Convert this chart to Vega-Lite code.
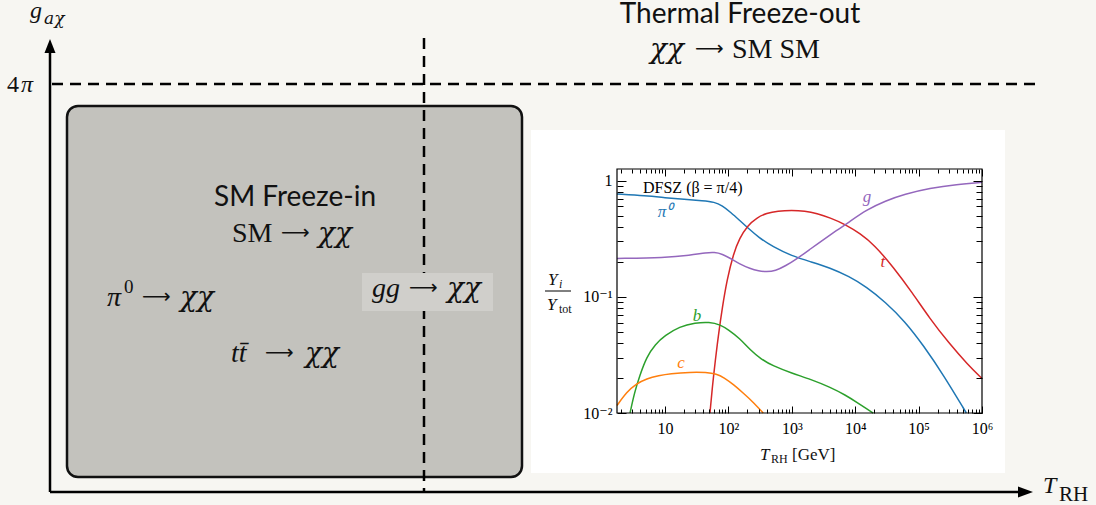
{
  "$schema": "https://vega.github.io/schema/vega-lite/v6.json",
  "width": 1096,
  "height": 505,
  "padding": 0,
  "autosize": {"type": "none"},
  "background": "#f7f6f2",
  "config": {"view": {"stroke": null}, "axis": {"grid": false}},
  "datasets": {
    "rects": [
      {"id": "white", "x": 531, "x2": 1005, "y": 32, "y2": 375},
      {"id": "gray", "x": 67, "x2": 522, "y": 28, "y2": 399},
      {"id": "gg", "x": 362, "x2": 493, "y": 194, "y2": 232}
    ],
    "lines": [
      {"id": "solid", "x": 50, "x2": 50, "y": 13, "y2": 452},
      {"id": "solid", "x": 50, "x2": 1019, "y": 13, "y2": 13},
      {"id": "dash", "x": 52, "x2": 1036, "y": 421, "y2": 421},
      {"id": "dash", "x": 424, "x2": 424, "y": 467, "y2": 13},
      {"id": "frac", "x": 545, "x2": 571, "y": 214, "y2": 214}
    ],
    "heads": [
      {"dir": "up", "x": 50, "y": 459},
      {"dir": "right", "x": 1025.5, "y": 13}
    ],
    "txt": [
      {"g": "sans", "x": 295, "y": 299, "text": "SM Freeze-in"},
      {"g": "sans", "x": 740, "y": 482, "text": "Thermal Freeze-out"},
      {"g": "up28", "x": 232, "y": 263, "text": "SM"},
      {"g": "up28", "x": 732, "y": 447, "text": "SM SM"},
      {"g": "arr", "x": 281, "y": 266, "text": "⟶"},
      {"g": "arr", "x": 142, "y": 202, "text": "⟶"},
      {"g": "arr", "x": 265, "y": 146, "text": "⟶"},
      {"g": "arr", "x": 409, "y": 211, "text": "⟶"},
      {"g": "arr", "x": 695, "y": 450, "text": "⟶"},
      {"g": "chi", "x": 318, "y": 263, "text": "χχ"},
      {"g": "chi", "x": 180, "y": 199, "text": "χχ"},
      {"g": "chi", "x": 305, "y": 143, "text": "χχ"},
      {"g": "chi", "x": 447, "y": 208, "text": "χχ"},
      {"g": "chi", "x": 650, "y": 447, "text": "χχ"},
      {"g": "it28", "x": 107, "y": 199, "text": "π"},
      {"g": "it28", "x": 231, "y": 143, "text": "tt̄"},
      {"g": "it28", "x": 372, "y": 208, "text": "gg"},
      {"g": "up19", "x": 124, "y": 212, "text": "0"},
      {"g": "up24", "x": 7, "y": 413, "text": "4"},
      {"g": "it24", "x": 21, "y": 413, "text": "π"},
      {"g": "it24", "x": 30, "y": 487, "text": "g"},
      {"g": "it24", "x": 1043, "y": 12, "text": "T"},
      {"g": "sub19", "x": 44, "y": 481, "text": "aχ"},
      {"g": "up20", "x": 1059, "y": 4, "text": "RH"},
      {"g": "it17", "x": 548, "y": 220, "text": "Y"},
      {"g": "it17", "x": 547, "y": 195, "text": "Y"},
      {"g": "it17", "x": 760, "y": 45, "text": "T"},
      {"g": "up17", "x": 792, "y": 45, "text": "[GeV]"},
      {"g": "it12", "x": 559, "y": 217, "text": "i"},
      {"g": "up12", "x": 559, "y": 192, "text": "tot"},
      {"g": "up12", "x": 771, "y": 42, "text": "RH"}
    ],
    "curves": [
      {"s": "pi", "T": 1.75, "Y": 0.767}, {"s": "pi", "T": 5, "Y": 0.74}, {"s": "pi", "T": 10, "Y": 0.713},
      {"s": "pi", "T": 20, "Y": 0.69}, {"s": "pi", "T": 40, "Y": 0.672}, {"s": "pi", "T": 60, "Y": 0.655},
      {"s": "pi", "T": 80, "Y": 0.61}, {"s": "pi", "T": 110, "Y": 0.53}, {"s": "pi", "T": 150, "Y": 0.455},
      {"s": "pi", "T": 200, "Y": 0.395}, {"s": "pi", "T": 300, "Y": 0.325}, {"s": "pi", "T": 500, "Y": 0.27},
      {"s": "pi", "T": 1000, "Y": 0.225}, {"s": "pi", "T": 2000, "Y": 0.2}, {"s": "pi", "T": 4000, "Y": 0.178},
      {"s": "pi", "T": 8000, "Y": 0.15}, {"s": "pi", "T": 15000, "Y": 0.122}, {"s": "pi", "T": 30000, "Y": 0.09},
      {"s": "pi", "T": 60000, "Y": 0.062}, {"s": "pi", "T": 120000, "Y": 0.038}, {"s": "pi", "T": 250000, "Y": 0.021},
      {"s": "pi", "T": 566000, "Y": 0.01},
      {"s": "t", "T": 51.2, "Y": 0.01}, {"s": "t", "T": 56, "Y": 0.017}, {"s": "t", "T": 62, "Y": 0.028},
      {"s": "t", "T": 70, "Y": 0.048}, {"s": "t", "T": 80, "Y": 0.08}, {"s": "t", "T": 95, "Y": 0.14},
      {"s": "t", "T": 120, "Y": 0.235}, {"s": "t", "T": 150, "Y": 0.32}, {"s": "t", "T": 200, "Y": 0.41},
      {"s": "t", "T": 280, "Y": 0.48}, {"s": "t", "T": 400, "Y": 0.525}, {"s": "t", "T": 600, "Y": 0.548},
      {"s": "t", "T": 1000, "Y": 0.556}, {"s": "t", "T": 1600, "Y": 0.548}, {"s": "t", "T": 2500, "Y": 0.522},
      {"s": "t", "T": 4000, "Y": 0.48}, {"s": "t", "T": 7000, "Y": 0.42}, {"s": "t", "T": 12000, "Y": 0.35},
      {"s": "t", "T": 20000, "Y": 0.28}, {"s": "t", "T": 40000, "Y": 0.18}, {"s": "t", "T": 80000, "Y": 0.108},
      {"s": "t", "T": 150000, "Y": 0.065}, {"s": "t", "T": 300000, "Y": 0.04}, {"s": "t", "T": 600000, "Y": 0.026},
      {"s": "t", "T": 1000000, "Y": 0.0198},
      {"s": "g", "T": 1.75, "Y": 0.214}, {"s": "g", "T": 10, "Y": 0.217}, {"s": "g", "T": 25, "Y": 0.228},
      {"s": "g", "T": 45, "Y": 0.24}, {"s": "g", "T": 60, "Y": 0.242}, {"s": "g", "T": 80, "Y": 0.234},
      {"s": "g", "T": 110, "Y": 0.213}, {"s": "g", "T": 150, "Y": 0.192}, {"s": "g", "T": 220, "Y": 0.175},
      {"s": "g", "T": 300, "Y": 0.167}, {"s": "g", "T": 400, "Y": 0.164}, {"s": "g", "T": 550, "Y": 0.167},
      {"s": "g", "T": 800, "Y": 0.185}, {"s": "g", "T": 1200, "Y": 0.212}, {"s": "g", "T": 2000, "Y": 0.26},
      {"s": "g", "T": 3000, "Y": 0.305}, {"s": "g", "T": 5000, "Y": 0.37}, {"s": "g", "T": 8000, "Y": 0.44},
      {"s": "g", "T": 15000, "Y": 0.56}, {"s": "g", "T": 30000, "Y": 0.67}, {"s": "g", "T": 60000, "Y": 0.765},
      {"s": "g", "T": 150000, "Y": 0.86}, {"s": "g", "T": 400000, "Y": 0.93}, {"s": "g", "T": 1000000, "Y": 0.967},
      {"s": "b", "T": 2.81, "Y": 0.01}, {"s": "b", "T": 3.3, "Y": 0.015}, {"s": "b", "T": 4, "Y": 0.021},
      {"s": "b", "T": 5.14, "Y": 0.0304}, {"s": "b", "T": 7, "Y": 0.039}, {"s": "b", "T": 10, "Y": 0.0465},
      {"s": "b", "T": 17, "Y": 0.0555}, {"s": "b", "T": 30, "Y": 0.0598}, {"s": "b", "T": 50, "Y": 0.0608},
      {"s": "b", "T": 75, "Y": 0.0575}, {"s": "b", "T": 100, "Y": 0.052}, {"s": "b", "T": 150, "Y": 0.044},
      {"s": "b", "T": 220, "Y": 0.035}, {"s": "b", "T": 330, "Y": 0.029}, {"s": "b", "T": 500, "Y": 0.0255},
      {"s": "b", "T": 1000, "Y": 0.022}, {"s": "b", "T": 2000, "Y": 0.0195}, {"s": "b", "T": 4000, "Y": 0.0167},
      {"s": "b", "T": 7000, "Y": 0.0143}, {"s": "b", "T": 11000, "Y": 0.0122}, {"s": "b", "T": 15000, "Y": 0.0109},
      {"s": "b", "T": 19200, "Y": 0.01},
      {"s": "c", "T": 1.75, "Y": 0.0116}, {"s": "c", "T": 2.5, "Y": 0.0152}, {"s": "c", "T": 3.5, "Y": 0.0178},
      {"s": "c", "T": 5.14, "Y": 0.0198}, {"s": "c", "T": 8, "Y": 0.021}, {"s": "c", "T": 12, "Y": 0.0218},
      {"s": "c", "T": 25, "Y": 0.0225}, {"s": "c", "T": 45, "Y": 0.0224}, {"s": "c", "T": 65, "Y": 0.0217},
      {"s": "c", "T": 85, "Y": 0.0202}, {"s": "c", "T": 120, "Y": 0.0176}, {"s": "c", "T": 180, "Y": 0.0145},
      {"s": "c", "T": 250, "Y": 0.0123}, {"s": "c", "T": 354, "Y": 0.01}
    ],
    "clab": [
      {"s": "pi", "T": 10, "Y": 0.486, "text": "π⁰"},
      {"s": "g", "T": 15350, "Y": 0.655, "text": "g"},
      {"s": "t", "T": 27400, "Y": 0.18, "text": "t"},
      {"s": "b", "T": 32, "Y": 0.0618, "text": "b"},
      {"s": "c", "T": 17.9, "Y": 0.0242, "text": "c"}
    ],
    "frame": [{"T": 1.75, "T2": 1000000, "Y": 0.01, "Y2": 1.26}]
  },
  "layer": [
    {
      "encoding": {
        "x": {"field": "x", "type": "quantitative", "scale": {"domain": [0, 1096], "nice": false, "zero": false}, "axis": null},
        "y": {"field": "y", "type": "quantitative", "scale": {"domain": [0, 505], "nice": false, "zero": false}, "axis": null}
      },
      "layer": [
        {"data": {"name": "rects"}, "transform": [{"filter": "datum.id == 'white'"}],
         "mark": {"type": "rect", "fill": "#ffffff"},
         "encoding": {"x2": {"field": "x2"}, "y2": {"field": "y2"}}},
        {"data": {"name": "rects"}, "transform": [{"filter": "datum.id == 'gray'"}],
         "mark": {"type": "rect", "fill": "#c3c2bd", "stroke": "#111111", "strokeWidth": 2.5, "cornerRadius": 11},
         "encoding": {"x2": {"field": "x2"}, "y2": {"field": "y2"}}},
        {"data": {"name": "lines"}, "transform": [{"filter": "datum.id == 'solid'"}],
         "mark": {"type": "rule", "stroke": "#000000", "strokeWidth": 2.5},
         "encoding": {"x2": {"field": "x2"}, "y2": {"field": "y2"}}},
        {"data": {"name": "lines"}, "transform": [{"filter": "datum.id == 'dash'"}],
         "mark": {"type": "rule", "stroke": "#000000", "strokeWidth": 2.5, "strokeDash": [11, 7]},
         "encoding": {"x2": {"field": "x2"}, "y2": {"field": "y2"}}},
        {"data": {"name": "lines"}, "transform": [{"filter": "datum.id == 'frac'"}],
         "mark": {"type": "rule", "stroke": "#000000", "strokeWidth": 1},
         "encoding": {"x2": {"field": "x2"}, "y2": {"field": "y2"}}},
        {"data": {"name": "heads"}, "transform": [{"filter": "datum.dir == 'up'"}],
         "mark": {"type": "point", "shape": "M0,-1L0.786,1L-0.786,1Z", "size": 196, "filled": true, "fill": "#000000", "opacity": 1}},
        {"data": {"name": "heads"}, "transform": [{"filter": "datum.dir == 'right'"}],
         "mark": {"type": "point", "shape": "M1,0L-1,0.73L-1,-0.73Z", "size": 225, "filled": true, "fill": "#000000", "opacity": 1}},
        {"data": {"name": "rects"}, "transform": [{"filter": "datum.id == 'gg'"}],
         "mark": {"type": "rect", "fill": "#d0cfcb"},
         "encoding": {"x2": {"field": "x2"}, "y2": {"field": "y2"}}},
        {"data": {"name": "txt"}, "transform": [{"filter": "datum.g == 'sans'"}],
         "mark": {"type": "text", "font": "Lato", "fontSize": 28, "align": "center", "baseline": "alphabetic", "color": "#111111"},
         "encoding": {"text": {"field": "text"}}},
        {"data": {"name": "txt"}, "transform": [{"filter": "datum.g == 'up28'"}],
         "mark": {"type": "text", "font": "Liberation Serif", "fontSize": 28, "align": "left", "baseline": "alphabetic", "color": "#111111"},
         "encoding": {"text": {"field": "text"}}},
        {"data": {"name": "txt"}, "transform": [{"filter": "datum.g == 'arr'"}],
         "mark": {"type": "text", "font": "DejaVu Sans", "fontSize": 20, "align": "left", "baseline": "alphabetic", "color": "#111111"},
         "encoding": {"text": {"field": "text"}}},
        {"data": {"name": "txt"}, "transform": [{"filter": "datum.g == 'chi'"}],
         "mark": {"type": "text", "font": "DejaVu Serif", "fontStyle": "italic", "fontSize": 28, "align": "left", "baseline": "alphabetic", "color": "#111111"},
         "encoding": {"text": {"field": "text"}}},
        {"data": {"name": "txt"}, "transform": [{"filter": "datum.g == 'it28'"}],
         "mark": {"type": "text", "font": "Liberation Serif", "fontStyle": "italic", "fontSize": 28, "align": "left", "baseline": "alphabetic", "color": "#111111"},
         "encoding": {"text": {"field": "text"}}},
        {"data": {"name": "txt"}, "transform": [{"filter": "datum.g == 'up19'"}],
         "mark": {"type": "text", "font": "Liberation Serif", "fontSize": 19, "align": "left", "baseline": "alphabetic", "color": "#111111"},
         "encoding": {"text": {"field": "text"}}},
        {"data": {"name": "txt"}, "transform": [{"filter": "datum.g == 'up24'"}],
         "mark": {"type": "text", "font": "Liberation Serif", "fontSize": 24, "align": "left", "baseline": "alphabetic", "color": "#111111"},
         "encoding": {"text": {"field": "text"}}},
        {"data": {"name": "txt"}, "transform": [{"filter": "datum.g == 'it24'"}],
         "mark": {"type": "text", "font": "Liberation Serif", "fontStyle": "italic", "fontSize": 24, "align": "left", "baseline": "alphabetic", "color": "#111111"},
         "encoding": {"text": {"field": "text"}}},
        {"data": {"name": "txt"}, "transform": [{"filter": "datum.g == 'sub19'"}],
         "mark": {"type": "text", "font": "DejaVu Serif", "fontStyle": "italic", "fontSize": 17, "align": "left", "baseline": "alphabetic", "color": "#111111"},
         "encoding": {"text": {"field": "text"}}},
        {"data": {"name": "txt"}, "transform": [{"filter": "datum.g == 'up20'"}],
         "mark": {"type": "text", "font": "Liberation Serif", "fontSize": 21, "align": "left", "baseline": "alphabetic", "color": "#111111"},
         "encoding": {"text": {"field": "text"}}},
        {"data": {"name": "txt"}, "transform": [{"filter": "datum.g == 'up17'"}],
         "mark": {"type": "text", "font": "Liberation Serif", "fontSize": 17, "align": "left", "baseline": "alphabetic", "color": "#111111"},
         "encoding": {"text": {"field": "text"}}},
        {"data": {"name": "txt"}, "transform": [{"filter": "datum.g == 'it17'"}],
         "mark": {"type": "text", "font": "Liberation Serif", "fontStyle": "italic", "fontSize": 17, "align": "left", "baseline": "alphabetic", "color": "#111111"},
         "encoding": {"text": {"field": "text"}}},
        {"data": {"name": "txt"}, "transform": [{"filter": "datum.g == 'up12'"}],
         "mark": {"type": "text", "font": "Liberation Serif", "fontSize": 12, "align": "left", "baseline": "alphabetic", "color": "#111111"},
         "encoding": {"text": {"field": "text"}}},
        {"data": {"name": "txt"}, "transform": [{"filter": "datum.g == 'it12'"}],
         "mark": {"type": "text", "font": "Liberation Serif", "fontStyle": "italic", "fontSize": 12, "align": "left", "baseline": "alphabetic", "color": "#111111"},
         "encoding": {"text": {"field": "text"}}}
      ]
    },
    {
      "layer": [
        {
          "encoding": {
            "x": {"field": "T", "type": "quantitative",
                  "scale": {"type": "log", "domain": [1.75, 1000000], "range": [617, 982], "nice": false, "zero": false},
                  "axis": {"orient": "bottom", "offset": -92, "zindex": 1, "values": [10, 100, 1000, 10000, 100000, 1000000], "tickSize": -7, "tickWidth": 1, "tickColor": "#000000", "domain": false, "grid": false,
                           "labelExpr": "datum.value == 10 ? '10' : datum.value == 100 ? '10²' : datum.value == 1000 ? '10³' : datum.value == 10000 ? '10⁴' : datum.value == 100000 ? '10⁵' : '10⁶'",
                           "labelFont": "Liberation Serif, DejaVu Serif", "labelFontSize": 16, "labelColor": "#000000", "labelPadding": 14, "labelFlush": false, "labelOverlap": false, "labelBound": false, "title": null}},
            "y": {"field": "Y", "type": "quantitative",
                  "scale": {"type": "log", "domain": [0.01, 1.26], "range": [413, 169], "nice": false, "zero": false},
                  "axis": {"orient": "left", "offset": -617, "zindex": 1, "values": [0.01, 0.1, 1], "tickSize": -9, "tickWidth": 1, "tickColor": "#000000", "domain": false, "grid": false,
                           "labelExpr": "datum.value == 1 ? '1' : datum.value == 0.1 ? '10⁻¹' : '10⁻²'",
                           "labelFont": "Liberation Serif, DejaVu Serif", "labelFontSize": 16, "labelColor": "#000000", "labelPadding": 14, "labelFlush": false, "labelOverlap": false, "labelBound": false, "title": null}},
            "color": {"field": "s", "type": "nominal", "scale": {"domain": ["pi", "t", "g", "b", "c"], "range": ["#1f77b4", "#d62728", "#9467bd", "#2ca02c", "#ff7f0e"]}, "legend": null}
          },
          "layer": [
            {"data": {"name": "curves"}, "mark": {"type": "line", "strokeWidth": 1.5, "interpolate": "basis"}},
            {"data": {"name": "clab"}, "mark": {"type": "text", "font": "Liberation Serif", "fontStyle": "italic", "fontSize": 17, "align": "center", "baseline": "alphabetic"},
             "encoding": {"text": {"field": "text"}}},
            {"data": {"values": [{"T": 4.5, "Y": 0.783, "text": "DFSZ (β = π/4)"}]},
             "mark": {"type": "text", "font": "Liberation Serif", "fontSize": 16, "align": "left", "baseline": "alphabetic"},
             "encoding": {"text": {"field": "text"}, "color": {"value": "#000000"}}}
          ]
        },
        {
          "data": {"name": "frame"},
          "mark": {"type": "rect", "fill": "transparent", "stroke": "#000000", "strokeWidth": 1.2},
          "encoding": {
            "x": {"field": "T", "type": "quantitative",
                  "scale": {"type": "log", "domain": [1.75, 1000000], "range": [617, 982], "nice": false, "zero": false},
                  "axis": {"orient": "top", "offset": -169, "zindex": 1, "values": [10, 100, 1000, 10000, 100000, 1000000], "tickSize": -7, "tickWidth": 1, "tickColor": "#000000", "domain": false, "labels": false, "grid": false, "title": null}},
            "x2": {"field": "T2"},
            "y": {"field": "Y", "type": "quantitative",
                  "scale": {"type": "log", "domain": [0.01, 1.26], "range": [413, 169], "nice": false, "zero": false},
                  "axis": {"orient": "right", "offset": -114, "zindex": 1, "values": [0.01, 0.1, 1], "tickSize": -9, "tickWidth": 1, "tickColor": "#000000", "domain": false, "labels": false, "grid": false, "title": null}},
            "y2": {"field": "Y2"}
          }
        },
        {
          "data": {"name": "frame"},
          "mark": {"type": "point", "opacity": 0},
          "encoding": {
            "x": {"field": "T", "type": "quantitative",
                  "scale": {"type": "log", "domain": [1.75, 1000000], "range": [617, 982], "nice": false, "zero": false},
                  "axis": {"orient": "bottom", "offset": -92, "zindex": 1, "values": [2,3,4,5,6,7,8,9,20,30,40,50,60,70,80,90,200,300,400,500,600,700,800,900,2000,3000,4000,5000,6000,7000,8000,9000,20000,30000,40000,50000,60000,70000,80000,90000,200000,300000,400000,500000,600000,700000,800000,900000], "tickSize": -4, "tickWidth": 1, "tickColor": "#000000", "domain": false, "labels": false, "grid": false, "title": null}},
            "y": {"field": "Y", "type": "quantitative",
                  "scale": {"type": "log", "domain": [0.01, 1.26], "range": [413, 169], "nice": false, "zero": false},
                  "axis": {"orient": "left", "offset": -617, "zindex": 1, "values": [0.02,0.03,0.04,0.05,0.06,0.07,0.08,0.09,0.2,0.3,0.4,0.5,0.6,0.7,0.8,0.9], "tickSize": -6, "tickWidth": 1, "tickColor": "#000000", "domain": false, "labels": false, "grid": false, "title": null}}
          }
        },
        {
          "data": {"name": "frame"},
          "mark": {"type": "point", "opacity": 0},
          "encoding": {
            "x": {"field": "T", "type": "quantitative",
                  "scale": {"type": "log", "domain": [1.75, 1000000], "range": [617, 982], "nice": false, "zero": false},
                  "axis": {"orient": "top", "offset": -169, "zindex": 1, "values": [2,3,4,5,6,7,8,9,20,30,40,50,60,70,80,90,200,300,400,500,600,700,800,900,2000,3000,4000,5000,6000,7000,8000,9000,20000,30000,40000,50000,60000,70000,80000,90000,200000,300000,400000,500000,600000,700000,800000,900000], "tickSize": -4, "tickWidth": 1, "tickColor": "#000000", "domain": false, "labels": false, "grid": false, "title": null}},
            "y": {"field": "Y", "type": "quantitative",
                  "scale": {"type": "log", "domain": [0.01, 1.26], "range": [413, 169], "nice": false, "zero": false},
                  "axis": {"orient": "right", "offset": -114, "zindex": 1, "values": [0.02,0.03,0.04,0.05,0.06,0.07,0.08,0.09,0.2,0.3,0.4,0.5,0.6,0.7,0.8,0.9], "tickSize": -6, "tickWidth": 1, "tickColor": "#000000", "domain": false, "labels": false, "grid": false, "title": null}}
          }
        }
      ],
      "resolve": {"scale": {"x": "independent", "y": "independent"}, "axis": {"x": "independent", "y": "independent"}}
    }
  ],
  "resolve": {"scale": {"x": "independent", "y": "independent"}, "axis": {"x": "independent", "y": "independent"}}
}
